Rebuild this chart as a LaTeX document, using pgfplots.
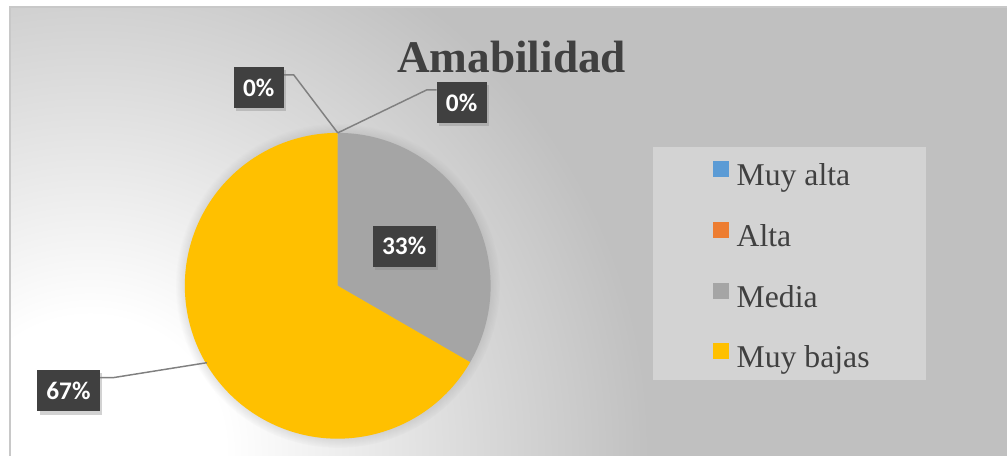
\documentclass[border=0pt]{standalone}
\usepackage{pgfplots}
\pgfplotsset{compat=1.18}
\usepackage{pgfplotstable}
\usepackage{fontspec}
\setmainfont{Liberation Serif}
\newfontfamily\labelfont{Carlito}
\usetikzlibrary{shadows}
\definecolor{cBlue}{HTML}{5B9BD5}
\definecolor{cOrange}{HTML}{ED7D31}
\definecolor{cGray}{HTML}{A5A5A5}
\definecolor{cGold}{HTML}{FFC000}
\definecolor{bgGray}{HTML}{C0C0C0}
\definecolor{bgMid}{HTML}{E3E3E3}
\definecolor{legGray}{HTML}{D3D3D3}
\definecolor{txt}{HTML}{404040}
\definecolor{lbl}{HTML}{404040}
\definecolor{leader}{HTML}{808080}
\definecolor{frameGray}{HTML}{C8C8C8}

% radial background shading (25bp corresponds to the circle's radius)
\pgfdeclareradialshading{bgshade}{\pgfpoint{0bp}{0bp}}{color(0bp)=(white); color(4.8bp)=(white); color(11.5bp)=(bgMid); color(20bp)=(bgGray); color(25bp)=(bgGray); color(50bp)=(bgGray)}

\pgfplotstableread{
label value
MuyAlta 0
Alta 0
Media 33.333
MuyBajas 66.667
}\piedata

\newcommand\lblfont{\labelfont\bfseries\fontsize{19pt}{22pt}\selectfont}

\begin{document}
\begin{tikzpicture}
\pgfplotstablegetelem{0}{value}\of\piedata \pgfmathsetmacro\vA{\pgfplotsretval}
\pgfplotstablegetelem{1}{value}\of\piedata \pgfmathsetmacro\vB{\pgfplotsretval}
\pgfplotstablegetelem{2}{value}\of\piedata \pgfmathsetmacro\vC{\pgfplotsretval}
\pgfplotstablegetelem{3}{value}\of\piedata \pgfmathsetmacro\vD{\pgfplotsretval}
% cumulative angles, clockwise from 90 degrees
\pgfmathsetmacro\aA{90}
\pgfmathsetmacro\aB{\aA-3.6*\vA}
\pgfmathsetmacro\aC{\aB-3.6*\vB}
\pgfmathsetmacro\aD{\aC-3.6*\vC}
\pgfmathsetmacro\aE{\aD-3.6*\vD}
\begin{axis}[
  width=756pt, height=342pt, scale only axis,
  xmin=0, xmax=1008, ymin=0, ymax=456,
  hide axis, clip=false,
  legend cell align=left,
  legend image code/.code={\fill[#1, draw=none] (0pt,1pt) rectangle (12pt,13pt);},
  legend style={at={(0.7073,0.6465)}, anchor=north west, draw=none, fill=none,
    inner sep=0pt, row sep=21pt, column sep=6pt,
    font=\fontsize{23.8pt}{28pt}\selectfont, text=txt,
    nodes={inner sep=0pt, text height=17pt, text depth=6pt}},
]
% page background and chart frame
\fill[white] (axis cs:0,0) rectangle (axis cs:1008,456);
\fill[bgGray] (axis cs:10,0) rectangle (axis cs:1008,449);
\begin{scope}
\clip (axis cs:10,0) rectangle (axis cs:1008,449);
\shade[shading=bgshade] (axis cs:90,5) circle[radius=525pt];
\end{scope}
\draw[frameGray, line width=1.2pt] (axis cs:10,0) -- (axis cs:10,449) -- (axis cs:1008,449);

% pie shadow
\path[circular drop shadow={shadow xshift=0pt, shadow yshift=0pt, shadow scale=1.06, opacity=0.5}] (axis cs:338,170) circle[radius=114.75pt];

% pie wedges from the table values
\fill[cGray] (axis cs:338,170) -- ++(\aC:114.75pt) arc[start angle=\aC, end angle=\aD, radius=114.75pt] -- cycle;
\fill[cGold] (axis cs:338,170) -- ++(\aD:114.75pt) arc[start angle=\aD, end angle=\aE, radius=114.75pt] -- cycle;

% leader lines
\draw[leader, line width=1.1pt] (axis cs:338,323) -- (axis cs:294,381) -- (axis cs:284,381);
\draw[leader, line width=1.1pt] (axis cs:338,323) -- (axis cs:427,366) -- (axis cs:437,366);
\draw[leader, line width=1.1pt] (axis cs:207,93) -- (axis cs:113,78) -- (axis cs:100,78);

% data labels
\tikzset{lblbox/.style={fill=lbl, text=white, font=\lblfont, inner xsep=7pt, minimum height=31pt,
  drop shadow={opacity=0.35, shadow xshift=2pt, shadow yshift=-2.5pt}}}
\node[lblbox] at (axis cs:259,368.5) {0\%};
\node[lblbox] at (axis cs:462,353.5) {0\%};
\node[lblbox] at (axis cs:404.5,209.5) {33\%};
\node[lblbox] at (axis cs:68.5,65) {67\%};

% title
\node[anchor=base, font=\bfseries\fontsize{34pt}{40pt}\selectfont, text=txt] at (axis cs:512,383) {Amabilidad};

% legend background
\fill[legGray] (axis cs:654,76) rectangle (axis cs:927,309);

\addlegendimage{fill=cBlue}
\addlegendentry{Muy alta}
\addlegendimage{fill=cOrange}
\addlegendentry{Alta}
\addlegendimage{fill=cGray}
\addlegendentry{Media}
\addlegendimage{fill=cGold}
\addlegendentry{Muy bajas}
\end{axis}
\end{tikzpicture}
\end{document}
